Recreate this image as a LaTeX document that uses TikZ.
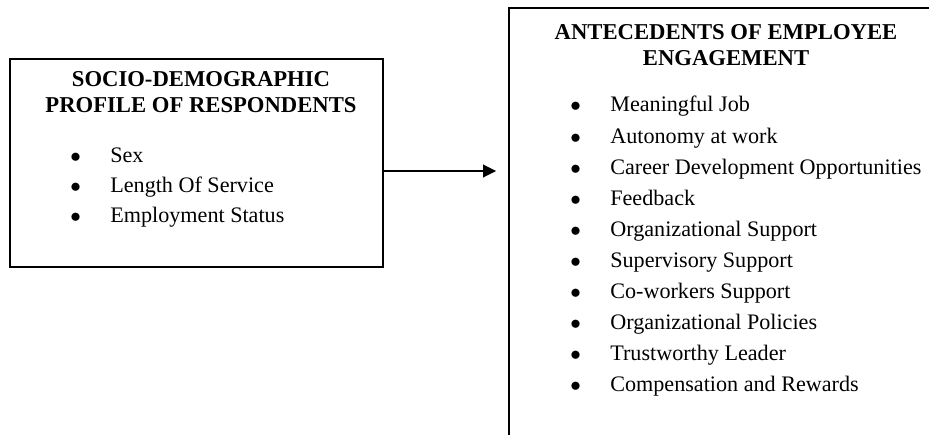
\documentclass[tikz,border=0pt]{standalone}
\usepackage{fontspec}
\setmainfont{Liberation Serif}
\usetikzlibrary{arrows.meta,positioning}

\begin{document}
\begin{tikzpicture}[x=0.02cm, y=-0.02cm,
  frame/.style={draw, line width=1.1pt, inner sep=0pt},
  head/.style={font=\fontsize{12.9}{14.8}\selectfont\bfseries, align=center,
               anchor=base, inner sep=0pt},
  item/.style={font=\fontsize{12.6}{15}\selectfont, anchor=base west, inner sep=0pt},
  arr/.style={-{Triangle[length=7.4pt, width=7.2pt]}, line width=1.1pt}
]
\useasboundingbox (0,0) rectangle (929,435);
\clip (0,0) rectangle (929,435);
% the two boxes
\node[frame, minimum width=7.46cm, minimum height=4.16cm] (profile) at (196.8,162.7) {};
\node[frame, minimum width=8.68cm, minimum height=8.84cm] (antecedents) at (726,229) {};
\draw[arr, shorten >=0.24cm] (profile.east |- 0,171) -- (antecedents.west |- 0,171);
% left box text
\node[head] (profhead) at (201,113) {SOCIO-DEMOGRAPHIC\\PROFILE OF RESPONDENTS};
\node[item] (sex) at (70,163) {\makebox[0.8cm][l]{$\bullet$}Sex};
\node[item] (service) at (70,193) {\makebox[0.8cm][l]{$\bullet$}Length Of Service};
\node[item] (status) at (70,223) {\makebox[0.8cm][l]{$\bullet$}Employment Status};
% right box text
\node[head] (anthead) at (726,66) {ANTECEDENTS OF EMPLOYEE\\ENGAGEMENT};
\node[item] (job) at (570,112) {\makebox[0.8cm][l]{$\bullet$}Meaningful Job};
\node[item] (autonomy) at (570,143.1) {\makebox[0.8cm][l]{$\bullet$}Autonomy at work};
\node[item] (career) at (570,174.2) {\makebox[0.8cm][l]{$\bullet$}Career Development Opportunities};
\node[item] (feedback) at (570,205.3) {\makebox[0.8cm][l]{$\bullet$}Feedback};
\node[item] (orgsupport) at (570,236.4) {\makebox[0.8cm][l]{$\bullet$}Organizational Support};
\node[item] (supervisory) at (570,267.5) {\makebox[0.8cm][l]{$\bullet$}Supervisory Support};
\node[item] (coworkers) at (570,298.6) {\makebox[0.8cm][l]{$\bullet$}Co-workers Support};
\node[item] (policies) at (570,329.7) {\makebox[0.8cm][l]{$\bullet$}Organizational Policies};
\node[item] (leader) at (570,360.8) {\makebox[0.8cm][l]{$\bullet$}Trustworthy Leader};
\node[item] (rewards) at (570,391.9) {\makebox[0.8cm][l]{$\bullet$}Compensation and Rewards};
\end{tikzpicture}
\end{document}
